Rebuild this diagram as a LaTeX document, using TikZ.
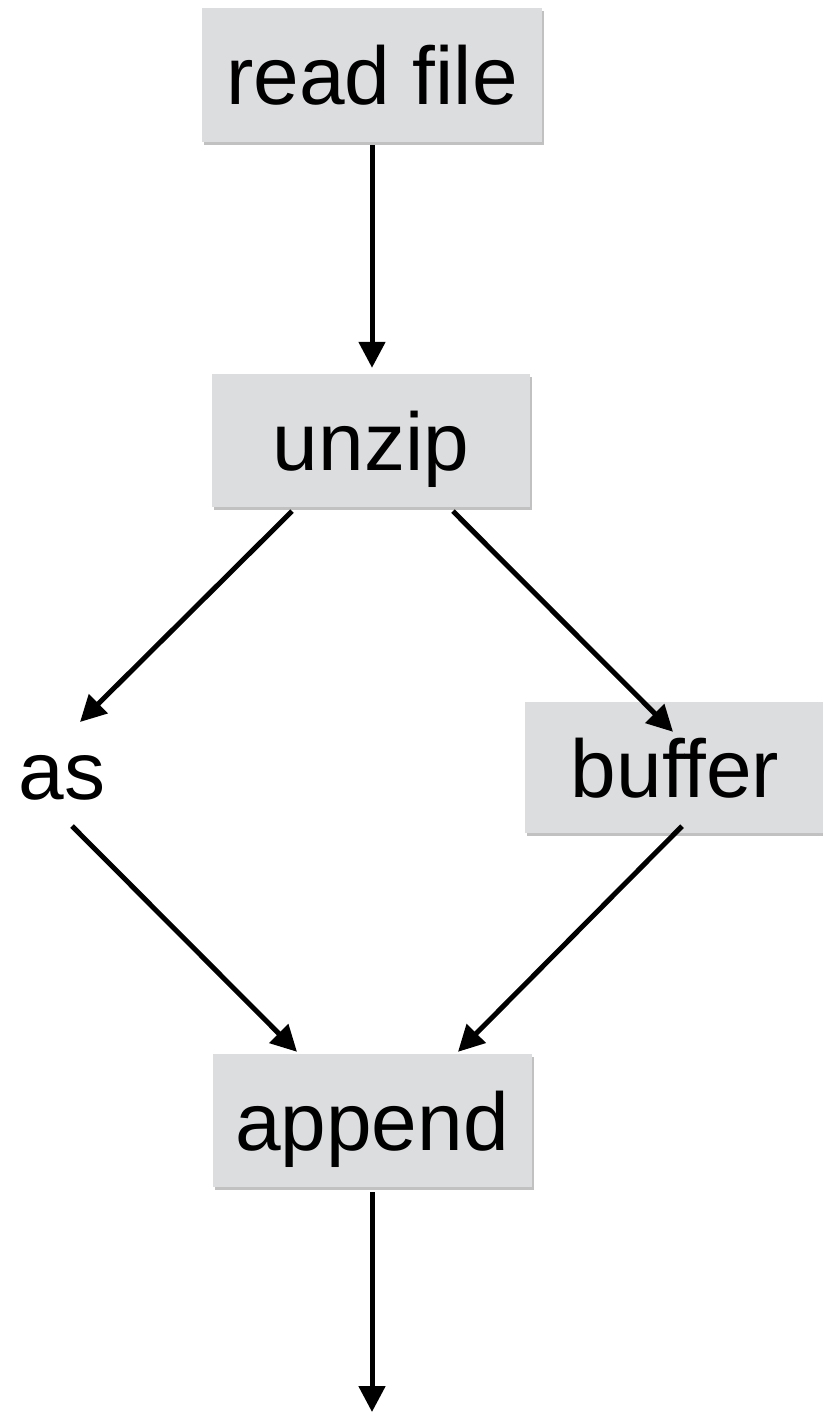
\documentclass[tikz,border=0pt]{standalone}
\usepackage{fontspec}
\setmainfont{Liberation Sans}
\usetikzlibrary{shadows,arrows.meta,calc}
\begin{document}
\begin{tikzpicture}[x=1pt,y=-1pt,
  box/.style={fill=boxgray, draw=none, inner sep=0pt, text height=59pt, text depth=0pt,
    font=\fontsize{82}{98}\selectfont,
    drop shadow={shadow xshift=2pt, shadow yshift=-3pt, opacity=0.35, fill=black!70}},
  lbl/.style={inner sep=0pt, text height=59pt, text depth=0pt, font=\fontsize{82}{98}\selectfont},
  arr/.style={line width=5pt, -{Triangle[length=26pt,width=26pt]}}]
\definecolor{boxgray}{HTML}{DCDDDF}
\useasboundingbox (0,0) rectangle (822,1412);
\node[box, minimum width=340pt, minimum height=134pt] (read) at (372,75) {read file};
\node[box, minimum width=318pt, minimum height=133pt] (unzip) at (371,440.5) {unzip};
\node[lbl] (as) at (62,770) {as};
\node[box, minimum width=300pt, minimum height=131pt] (buffer) at (675,767.5) {buffer};
\node[box, minimum width=319pt, minimum height=133pt] (append) at (372,1120.5) {append};
\coordinate (out) at (372,1412);
\draw[arr] ($(read.south)+(0,3)$) -- ($(unzip.north)+(1,-6)$);
\draw[arr] ($(unzip.south)+(-79,4)$) -- ($(as)+(18,-48)$);
\draw[arr] ($(unzip.south)+(82,4)$) -- ($(buffer.north)+(-2,30)$);
\draw[arr] ($(as)+(10,56)$) -- ($(append.north)+(-75,-2)$);
\draw[arr] ($(buffer.south)+(7,-7)$) -- ($(append.north)+(86,-2)$);
\draw[arr] ($(append.south)+(0,5)$) -- (out);
\end{tikzpicture}
\end{document}
